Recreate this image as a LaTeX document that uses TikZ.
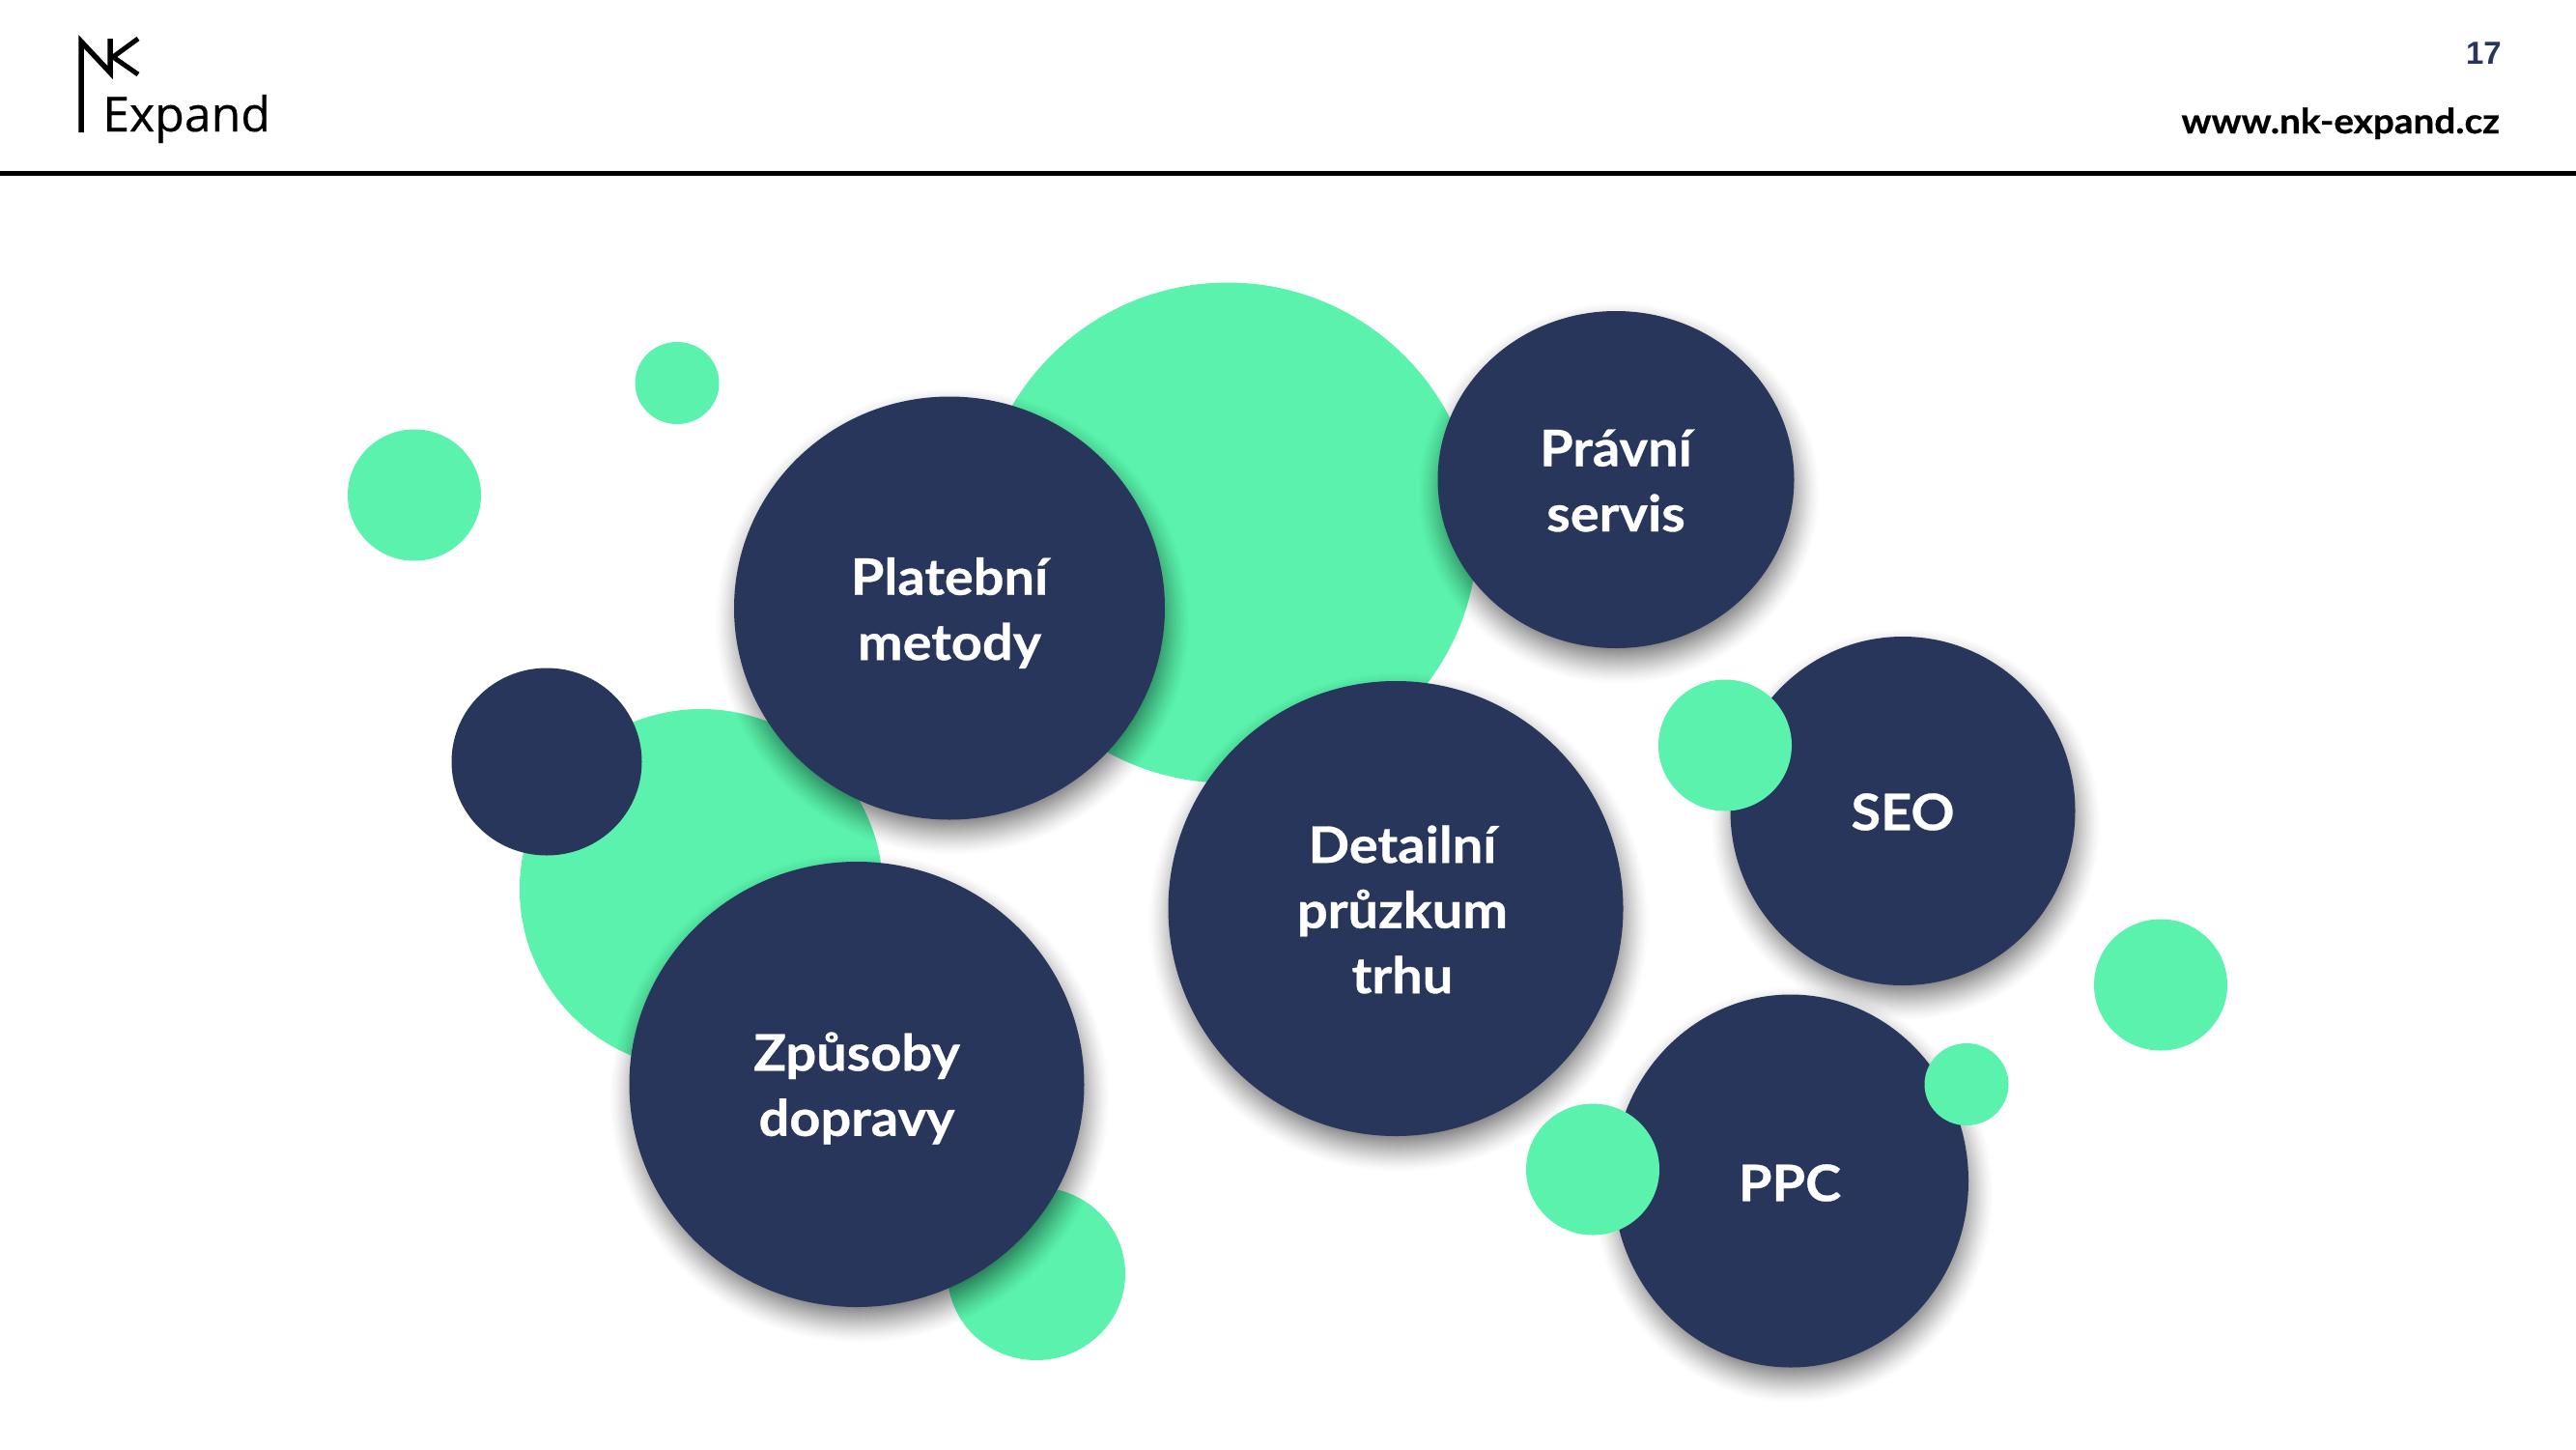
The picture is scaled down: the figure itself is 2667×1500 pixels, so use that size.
\documentclass[tikz,border=0pt]{standalone}
\usepackage{fontspec}
\setmainfont[FakeStretch=1.07]{Lato}
\newfontfamily\labelfont[FakeStretch=1.075,FakeBold=0.6]{Lato Bold}
\newfontfamily\logofont[FakeBold=0.3]{Open Sans}
\newfontfamily\pagefont{Liberation Sans}
\usetikzlibrary{shapes.geometric}
\definecolor{navy}{HTML}{28365B}
\definecolor{mint}{HTML}{5AF2AC}
\tikzset{
  x=1pt,y=-1pt,
  blob/.style={ellipse,inner sep=0pt,outer sep=0pt,draw=none},
  greenblob/.style={blob,fill=mint},
  navyblob/.style={blob,fill=navy},
  blobtext/.style={anchor=center,align=center,text=white,inner sep=0pt,
    font=\labelfont\fontsize{52}{67.5}\selectfont},
}
% soft shadow: cx cy rx ry
\newcommand{\softshadow}[4]{%
  \foreach \r in {22,20,...,-14}{%
    \pgfmathsetmacro{\op}{0.012+(22-\r)*0.001}%
    \fill[black,opacity=\op] (#1+3,#2+14) ellipse [x radius=#3+\r,y radius=#4+\r];
  }%
}
\begin{document}
\begin{tikzpicture}
\useasboundingbox (0,0) rectangle (2667,1500);
\fill[white] (0,0) rectangle (2667,1500);
% header
\coordinate (ruleL) at (0,179.5);
\coordinate (ruleR) at (2667,179.5);
\draw[black,line width=5pt] (ruleL) -- (ruleR);
\coordinate (la) at (84,137);
\coordinate (lb) at (84,43);
\coordinate (lc) at (114,75);
\coordinate (ld) at (114,40);
\coordinate (le) at (143,40);
\coordinate (lf) at (117,59);
\coordinate (lg) at (143,77);
\draw[black,line width=5.5pt,miter limit=8] (la) -- (lb) -- (lc) -- (ld);
\draw[black,line width=5pt] (le) -- (lf) -- (lg);
\node[anchor=base west,inner sep=0pt,font=\logofont\fontsize{50}{50}\selectfont] (expand) at (106,136) {Expand};
\node[anchor=base east,inner sep=0pt,text=navy,font=\pagefont\bfseries\fontsize{33}{33}\selectfont] (page) at (2590,66) {17};
\node[anchor=base east,inner sep=0pt,font=\labelfont\fontsize{36}{36}\selectfont] (url) at (2588,138) {www.nk-expand.cz};
\begin{scope}[shift={(0,0.5)}]
% big mint
\node[greenblob,minimum width=518pt,minimum height=518pt] (g1) at (1271,551) {};
\node[greenblob,minimum width=376pt,minimum height=373pt] (g2) at (726,920) {};
\node[greenblob,minimum width=184pt,minimum height=179pt] (g3) at (1073,1318) {};
\node[greenblob,minimum width=87pt,minimum height=85pt] (g4) at (701,396) {};
\node[greenblob,minimum width=138pt,minimum height=136pt] (g5) at (429,512) {};
\node[greenblob,minimum width=138pt,minimum height=136pt] (g6) at (2237,1019) {};
% navy
\softshadow{983}{629}{223}{219}
\node[navyblob,minimum width=446pt,minimum height=438pt] (n1) at (983,629) {};
\node[blobtext] (n1t) at (983,634) {Platební\\metody};
\softshadow{1673}{496}{185}{175}
\node[navyblob,minimum width=369pt,minimum height=349pt] (n2) at (1673,496) {};
\node[blobtext] (n2t) at (1673,497) {Právní\\servis};
\softshadow{1445}{940}{236}{236}
\node[navyblob,minimum width=471pt,minimum height=471pt] (n3) at (1445,940) {};
\node[blobtext] (n3t) at (1452,941) {Detailní\\průzkum\\trhu};
\softshadow{1970}{839}{179}{180}
\node[navyblob,minimum width=357pt,minimum height=361pt] (n4) at (1970,839) {};
\node[blobtext] (n4t) at (1970,840) {SEO};
\softshadow{1854}{1222}{184}{193}
\node[navyblob,minimum width=368pt,minimum height=386pt] (n5) at (1854,1222) {};
\node[blobtext] (n5t) at (1853,1224) {PPC};
\softshadow{887}{1122}{236}{231}
\node[navyblob,minimum width=471pt,minimum height=461pt] (n6) at (887,1122) {};
\node[blobtext] (n6t) at (887,1126) {Způsoby\\dopravy};
\node[navyblob,minimum width=197pt,minimum height=194pt] (n7) at (566,788) {};
% small mint on top
\node[greenblob,minimum width=138pt,minimum height=136pt] (g7) at (1786,771) {};
\node[greenblob,minimum width=138pt,minimum height=136pt] (g8) at (1649,1210) {};
\node[greenblob,minimum width=87pt,minimum height=85pt] (g9) at (2036,1122) {};
\end{scope}
\end{tikzpicture}
\end{document}
